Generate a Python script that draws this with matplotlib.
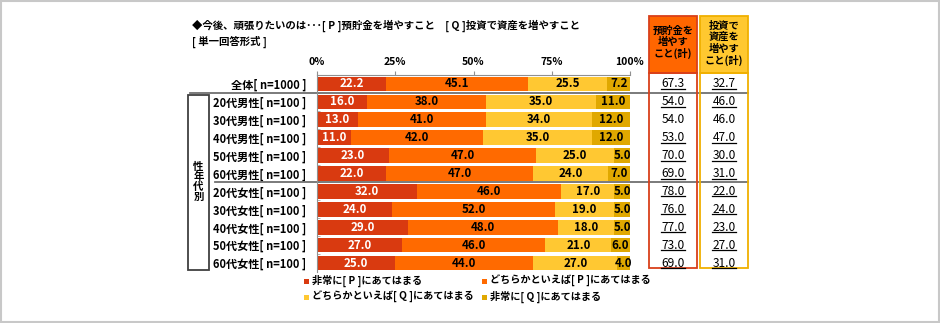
import matplotlib
matplotlib.use('Agg')
import matplotlib.pyplot as plt
from matplotlib.patches import Rectangle
from matplotlib.lines import Line2D
import matplotlib.transforms as mtransforms

plt.rcParams['font.family'] = ['Noto Sans CJK JP', 'DejaVu Sans']

# ---------------- data ----------------
categories = ['全体[ n=1000 ]',
              '20代男性[ n=100 ]', '30代男性[ n=100 ]', '40代男性[ n=100 ]',
              '50代男性[ n=100 ]', '60代男性[ n=100 ]',
              '20代女性[ n=100 ]', '30代女性[ n=100 ]', '40代女性[ n=100 ]',
              '50代女性[ n=100 ]', '60代女性[ n=100 ]']
s_very_p = [22.2, 16.0, 13.0, 11.0, 23.0, 22.0, 32.0, 24.0, 29.0, 27.0, 25.0]
s_some_p = [45.1, 38.0, 41.0, 42.0, 47.0, 47.0, 46.0, 52.0, 48.0, 46.0, 44.0]
s_some_q = [25.5, 35.0, 34.0, 35.0, 25.0, 24.0, 17.0, 19.0, 18.0, 21.0, 27.0]
s_very_q = [7.2, 11.0, 12.0, 12.0, 5.0, 7.0, 5.0, 5.0, 5.0, 6.0, 4.0]
p_total = [67.3, 54.0, 54.0, 53.0, 70.0, 69.0, 78.0, 76.0, 77.0, 73.0, 69.0]
q_total = [32.7, 46.0, 46.0, 47.0, 30.0, 31.0, 22.0, 24.0, 23.0, 27.0, 31.0]
underlined = [True, True, False, True, True, True, True, True, True, True, True]
series_names = ['非常に[ P ]にあてはまる', 'どちらかといえば[ P ]にあてはまる',
                'どちらかといえば[ Q ]にあてはまる', '非常に[ Q ]にあてはまる']
xticks = [0, 25, 50, 75, 100]
xticklabels = ['0%', '25%', '50%', '75%', '100%']
title1 = '◆今後、頑張りたいのは･･･[ P ]預貯金を増やすこと　[ Q ]投資で資産を増やすこと'
title2 = '[ 単一回答形式 ]'
group_label = '性\n年\n代\n別'
col_p_header = '預貯金を\n増やす\nこと(計)'
col_q_header = '投資で\n資産を\n増やす\nこと(計)'

# ---------------- styles ----------------
colors = ['#D93A10', '#FF6A00', '#FFC832', '#E0A800']
text_colors = ['white', 'black', 'black', 'black']

W, H = 940, 323
fig = plt.figure(figsize=(9.4, 3.23), dpi=100)
fig.patch.set_facecolor('white')

def fx(x):
    return x / W

def fy(y):
    return 1 - y / H

# outer frame
fig.patches.append(Rectangle((fx(0.5), fy(322)), fx(939) - fx(0.5), fy(0.5) - fy(322),
                             transform=fig.transFigure, fill=False,
                             edgecolor='#C8C8C8', linewidth=1.5))

ax = fig.add_axes([fx(317), fy(272), fx(630) - fx(317), fy(75) - fy(272)])
n = len(categories)
ypos = list(range(n))
left = [0.0] * n
all_series = [s_very_p, s_some_p, s_some_q, s_very_q]
for vals, col, tc in zip(all_series, colors, text_colors):
    bars = ax.barh(ypos, vals, left=left, height=0.82, color=col, edgecolor='none')
    for b, v in zip(bars, vals):
        ax.text(b.get_x() + b.get_width() / 2, b.get_y() + b.get_height() / 2, f'{v:.1f}',
                ha='center', va='center', color=tc, fontsize=8.3, fontweight='bold',
                clip_on=False)
    left = [l + v for l, v in zip(left, vals)]

ax.set_xlim(0, 100)
ax.set_ylim(n - 0.5, -0.5)
ax.xaxis.tick_top()
ax.set_xticks(xticks)
ax.set_xticklabels(xticklabels, fontweight='bold')
ax.tick_params(axis='x', direction='out', length=3, color='#909090', labelsize=7.5, pad=3)
ax.set_yticks(ypos)
ax.set_yticklabels(categories, fontsize=8, fontweight='bold')
ax.tick_params(axis='y', which='major', length=0, pad=7.5)
ax.set_yticks([i + 0.5 for i in ypos[:-1]], minor=True)
ax.tick_params(axis='y', which='minor', direction='in', length=2, color='#A0A0A0')
for s in ['right', 'bottom']:
    ax.spines[s].set_visible(False)
for s in ['top', 'left']:
    ax.spines[s].set_color('#909090')
    ax.spines[s].set_linewidth(0.8)
ax.set_facecolor('none')

trans = mtransforms.blended_transform_factory(fig.transFigure, ax.transData)

# separator lines
ax.add_line(Line2D([fx(190), fx(748)], [0.5, 0.5], transform=trans, color='#707070',
                   linewidth=1.3, clip_on=False))
ax.add_line(Line2D([fx(215), fx(748)], [5.5, 5.5], transform=trans, color='#707070',
                   linewidth=1.3, clip_on=False))

# group box
fig.patches.append(Rectangle((fx(188), fy(270)), fx(209) - fx(188), fy(95) - fy(270),
                             transform=fig.transFigure, fill=False,
                             edgecolor='#404040', linewidth=1.3))
fig.text(fx(198.5), fy(182), group_label, ha='center', va='center', fontsize=7.5,
         fontweight='bold', linespacing=1.0)

# title
fig.text(fx(192), fy(26), title1, ha='left', va='center', fontsize=7.5, fontweight='bold')
fig.text(fx(192), fy(42), title2, ha='left', va='center', fontsize=7.5, fontweight='bold')

# right-hand columns
cols = [(649, 697, '#FF6600', '#D9401A', col_p_header, p_total, fy(42.5)),
        (700, 748, '#FFC830', '#F0B000', col_q_header, q_total, fy(43.5))]
value_texts = []
for x0, x1, fill, edge, header, vals, hy in cols:
    fig.patches.append(Rectangle((fx(x0), fy(73)), fx(x1) - fx(x0), fy(16) - fy(73),
                                 transform=fig.transFigure, facecolor=fill, edgecolor=edge,
                                 linewidth=1.3))
    fig.patches.append(Rectangle((fx(x0), fy(268)), fx(x1) - fx(x0), fy(73) - fy(268),
                                 transform=fig.transFigure, fill=False, edgecolor=edge,
                                 linewidth=1.3))
    fig.text(fx((x0 + x1) / 2), hy, header, ha='center', va='center', fontsize=7.4,
             fontweight='bold', linespacing=1.15)
    for i, v in enumerate(vals):
        t = ax.text(fx((x0 + x1) / 2), i, f'{v:.1f}', transform=trans, ha='center',
                    va='center', fontsize=8.6, clip_on=False)
        value_texts.append((t, underlined[i]))

# legend
legend_pos = [(304, 312, 281), (482, 490, 281), (304, 312, 297), (482, 490, 297)]
for (mx, tx, yy), name, col in zip(legend_pos, series_names, colors):
    fig.patches.append(Rectangle((fx(mx), fy(yy + 2.5)), fx(5), 5 / H,
                                 transform=fig.transFigure, facecolor=col, edgecolor='none'))
    fig.text(fx(tx), fy(yy), name, ha='left', va='center', fontsize=7.3, fontweight='bold')

# underlines for totals
fig.canvas.draw()
r = fig.canvas.get_renderer()
for t, u in value_texts:
    if not u:
        continue
    bb = t.get_window_extent(renderer=r)
    yline = bb.y0 + 1.5
    fig.lines.append(Line2D([bb.x0 / W, bb.x1 / W], [yline / H, yline / H],
                            transform=fig.transFigure, color='black', linewidth=0.9))

fig.savefig('out.png', dpi=100, facecolor='white')
